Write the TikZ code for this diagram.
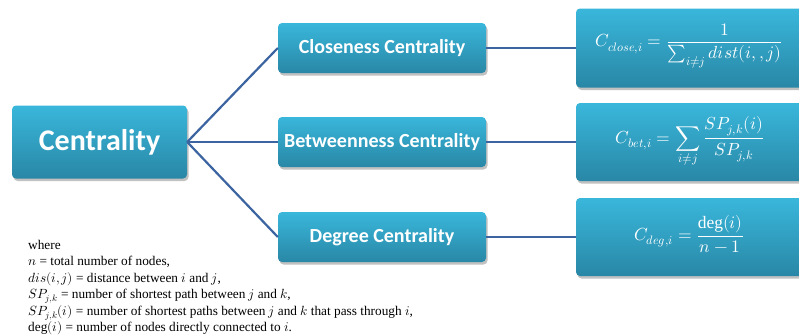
\documentclass[tikz,border=0pt]{standalone}
\usepackage{fontspec}
\usepackage{unicode-math}
\setmainfont{Liberation Serif}
\setmathfont{Latin Modern Math}
\newfontfamily\boxfont{Carlito}
\usetikzlibrary{shadows}
\definecolor{boxtop}{RGB}{57,183,219}
\definecolor{boxbot}{RGB}{41,135,166}
\definecolor{linkc}{RGB}{60,100,160}
\tikzset{
  cbox/.style={rounded corners=4pt, top color=boxtop, bottom color=boxbot, draw=none,
    text=white, font=\boxfont\bfseries\fontsize{20}{23}\selectfont,
    drop shadow={shadow xshift=1.5pt, shadow yshift=-2.5pt, opacity=0.35, fill=black!70}},
  link/.style={draw=linkc, line width=2.2pt},
  ftext/.style={text=white, font=\fontsize{17.5}{21}\selectfont},
}
\begin{document}
\begin{tikzpicture}[x=1pt,y=-1pt]
\useasboundingbox (0,0) rectangle (799,335);
\clip (0,0) rectangle (799,335);
% main boxes
\node[cbox, minimum width=175pt, minimum height=73pt, font=\boxfont\bfseries\fontsize{30}{34}\selectfont] (cent) at (99.5,142) {Centrality};
\node[cbox, minimum width=208pt, minimum height=50pt] (clo) at (382,48) {Closeness Centrality};
\node[cbox, minimum width=208pt, minimum height=50pt] (bet) at (382,142) {Betweenness Centrality};
\node[cbox, minimum width=208pt, minimum height=50pt] (deg) at (382,237) {Degree Centrality};
% formula boxes
\node[cbox, minimum width=250pt, minimum height=79pt] (fclo) at (701,48) {};
\node[cbox, minimum width=250pt, minimum height=78pt] (fbet) at (701,142) {};
\node[cbox, minimum width=250pt, minimum height=78pt] (fdeg) at (701,237) {};
\node[ftext] (tclo) at (689,46) {$\displaystyle C_{close,i} = \frac{1}{\sum_{i\neq j} dist(i,,j)}$};
\node[ftext] (tbet) at (690,142) {$\displaystyle C_{bet,i} = \sum_{i\neq j}\frac{SP_{j,k}(i)}{SP_{j,k}}$};
\node[ftext] (tdeg) at (689,234) {$\displaystyle C_{deg,i} = \frac{\deg(i)}{n-1}$};
% connectors
\draw[link] (cent.east) -- (clo.west);
\draw[link] (cent.east) -- (bet.west);
\draw[link] (cent.east) -- (deg.west);
\draw[link] (clo.east) -- (fclo.west);
\draw[link] (bet.east) -- (fbet.west);
\draw[link] (deg.east) -- (fdeg.west);
% legend
\node[anchor=north west, align=left, inner sep=0pt, font=\fontsize{13.3}{16.4}\selectfont] (where) at (28,240) {where\\
$n$ = total number of nodes,\\
$dis(i,j)$ = distance between $i$ and $j$,\\
$SP_{j,k}$ = number of shortest path between $j$ and $k$,\\
$SP_{j,k}(i)$ = number of shortest paths between $j$ and $k$ that pass through $i$,\\
$\deg(i)$ = number of nodes directly connected to $i$.};
\end{tikzpicture}
\end{document}
